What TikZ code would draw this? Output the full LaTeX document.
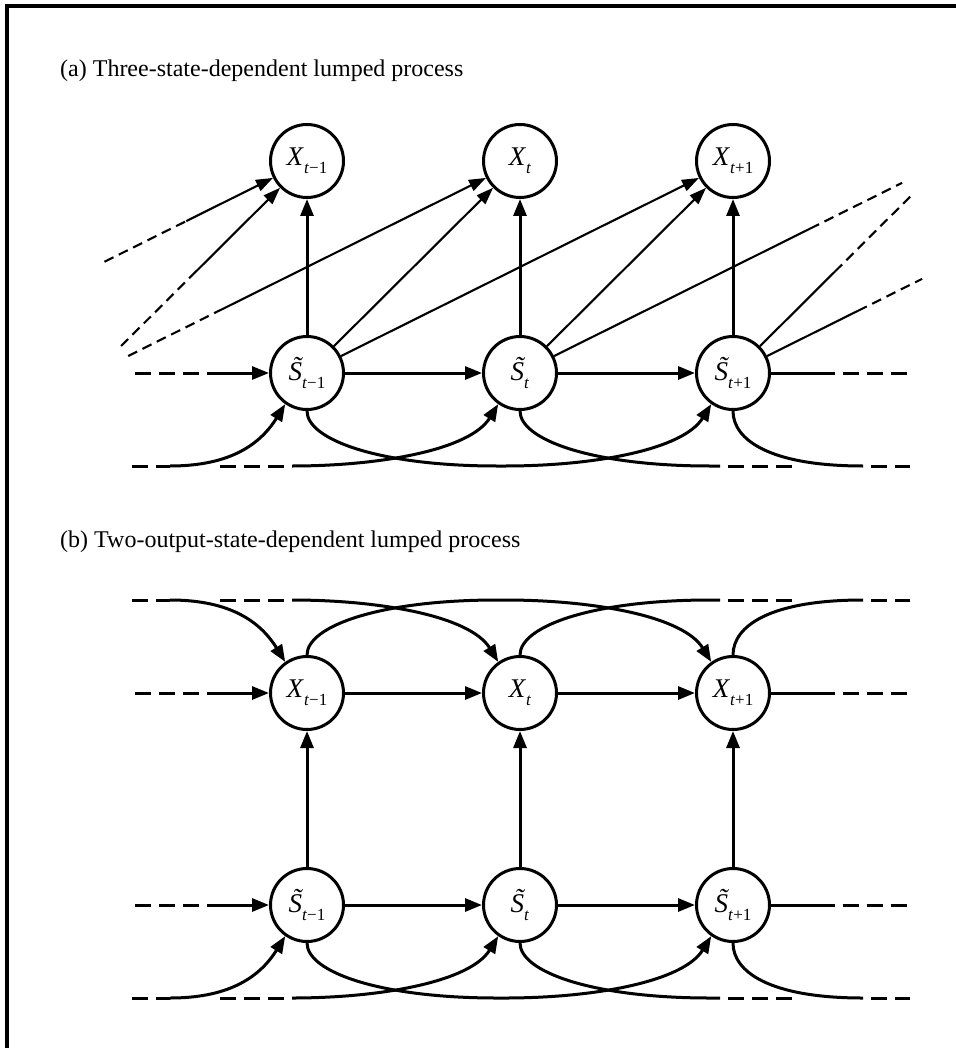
\documentclass[tikz,border=0pt]{standalone}
\usepackage{fontspec}
\setmainfont{Liberation Serif}
\usetikzlibrary{arrows.meta,calc}
\newcommand\Xs[1]{\textit{X}\raisebox{-0.3em}{\fontsize{17}{17}\selectfont\textit{t}#1}}
\newcommand\Ss[1]{{\itshape\accent"02DC S}\raisebox{-0.3em}{\fontsize{17}{17}\selectfont\textit{t}#1}}
\tikzset{
  st/.style={circle,draw,line width=3pt,minimum size=73pt,inner sep=0pt,font=\fontsize{27}{30}\selectfont},
  vn/.style={circle,minimum size=76pt,inner sep=0pt},
  thk/.style={line width=3pt},
  thn/.style={line width=2.1pt},
  arr/.style={-{Triangle[length=17pt,width=13pt]}},
  arrn/.style={-{Triangle[length=17pt,width=12pt]}},
  dsh/.style={line width=3pt,dash pattern=on 16pt off 8pt},
  dshr/.style={line width=3pt,dash pattern=on 16pt off 8pt,dash phase=16pt},
  dshn/.style={line width=2.1pt,dash pattern=on 10pt off 6pt},
  ttl/.style={anchor=base west,inner sep=0pt,font=\fontsize{24}{28}\selectfont},
}
% #1,#2,#3 nodes; #4 out anchor; #5 in anchor; #6 row y; #7 yscale
\newcommand\loopcurves[7]{%
  \begin{scope}[shift={(0,#6)},yscale=#7]
    \draw[dsh] (132,93) -- (170,93);
    \draw[thk,arr] (170,93) .. controls (225,93) and (258,75) .. (#1.#5);
    \draw[dsh] (220,93) -- (292,93);
    \draw[thk,arr] (292,93) .. controls (380,93) and (470,77) .. (#2.#5);
    \draw[thk,arr] (#1.#4) .. controls (307,67) and (380,93) .. (497,93) -- (505,93)
       .. controls (593,93) and (683,77) .. (#3.#5);
    \draw[thk] (#2.#4) .. controls (520,67) and (593,93) .. (710,93) -- (720,93);
    \draw[dshr] (720,93) -- (797,93);
    \draw[thk] (#3.#4) .. controls (733,67) and (770,93) .. (863,93);
    \draw[dshr] (863,93) -- (910,93);
  \end{scope}}
% horizontal chain: #1,#2,#3 nodes, #4 row y
\newcommand\chain[4]{%
  \coordinate (#1L0) at (135,#4); \coordinate (#1L1) at (207,#4);
  \coordinate (#3R1) at (835,#4); \coordinate (#3R0) at (910,#4);
  \draw[dsh] (#1L0) -- (#1L1);
  \draw[thk,arr] (#1L1) -- (#1);
  \draw[thk,arr] (#1) -- (#2);
  \draw[thk,arr] (#2) -- (#3);
  \draw[thk] (#3) -- (#3R1);
  \draw[dshr] (#3R1) -- (#3R0);}
\begin{document}
\begin{tikzpicture}[x=1pt,y=-1pt]
\useasboundingbox (0,0) rectangle (955,1048);
\draw[line width=4pt] (7,1060) -- (7,6) -- (970,6);

\node[ttl] (ta) at (60,77) {(a) Three-state-dependent lumped process};
\node[ttl] (tb) at (60,547) {(b) Two-output-state-dependent lumped process};

% ---------- (a)
\node[st] (aX1) at (307,161) {\Xs{−1}};
\node[st] (aX2) at (520,161) {\Xs{}};
\node[st] (aX3) at (733,161) {\Xs{+1}};
\node[st] (aS1) at (307,373) {\Ss{−1}};
\node[st] (aS2) at (520,373) {\Ss{}};
\node[st] (aS3) at (733,373) {\Ss{+1}};
\node[vn] (aSm2) at (94,373) {};
\node[vn] (aSm3) at (-119,373) {};
\node[vn] (aXp2) at (946,161) {};
\node[vn] (aXp3) at (1159,161) {};

\foreach \i in {1,2,3}{\draw[thk,arr] (aS\i) -- (aX\i);}
\draw[thn,arrn] (aS1) -- (aX2);
\draw[thn,arrn] (aS1) -- (aX3);
\draw[thn,arrn] (aS2) -- (aX3);

\coordinate (c1a) at ($(aSm3)!0.5246!(aX1)$);
\coordinate (c1b) at ($(aSm3)!0.7166!(aX1)$);
\draw[dshn] (c1a) -- (c1b);
\draw[thn,arrn] (c1b) -- (aX1);
\coordinate (c2b) at ($(aSm2)!0.4626!(aX1)$);
\draw[dshn] (aSm2) -- (c2b);
\draw[thn,arrn] (c2b) -- (aX1);
\coordinate (c3b) at ($(aSm2)!0.289!(aX2)$);
\draw[dshn] (aSm2) -- (c3b);
\draw[thn,arrn] (c3b) -- (aX2);

\coordinate (c4a) at ($(aS2)!0.681!(aXp2)$);
\coordinate (c4b) at ($(aS2)!0.897!(aXp2)$);
\draw[thn] (aS2) -- (c4a);
\draw[dshn] (c4a) -- (c4b);
\coordinate (c5a) at ($(aS3)!0.479!(aXp2)$);
\coordinate (c5b) at ($(aS3)!0.845!(aXp2)$);
\draw[thn] (aS3) -- (c5a);
\draw[dshn] (c5a) -- (c5b);
\coordinate (c6a) at ($(aS3)!0.293!(aXp3)$);
\coordinate (c6b) at ($(aS3)!0.444!(aXp3)$);
\draw[thn] (aS3) -- (c6a);
\draw[dshn] (c6a) -- (c6b);

\chain{aS1}{aS2}{aS3}{373}
\loopcurves{aS1}{aS2}{aS3}{south}{-125}{373}{1}

% ---------- (b)
\node[st] (bX1) at (307,693) {\Xs{−1}};
\node[st] (bX2) at (520,693) {\Xs{}};
\node[st] (bX3) at (733,693) {\Xs{+1}};
\node[st] (bS1) at (307,905) {\Ss{−1}};
\node[st] (bS2) at (520,905) {\Ss{}};
\node[st] (bS3) at (733,905) {\Ss{+1}};

\foreach \i in {1,2,3}{\draw[thk,arr] (bS\i) -- (bX\i);}
\chain{bX1}{bX2}{bX3}{693}
\chain{bS1}{bS2}{bS3}{905}
\loopcurves{bX1}{bX2}{bX3}{north}{125}{693}{-1}
\loopcurves{bS1}{bS2}{bS3}{south}{-125}{905}{1}
\end{tikzpicture}
\end{document}
